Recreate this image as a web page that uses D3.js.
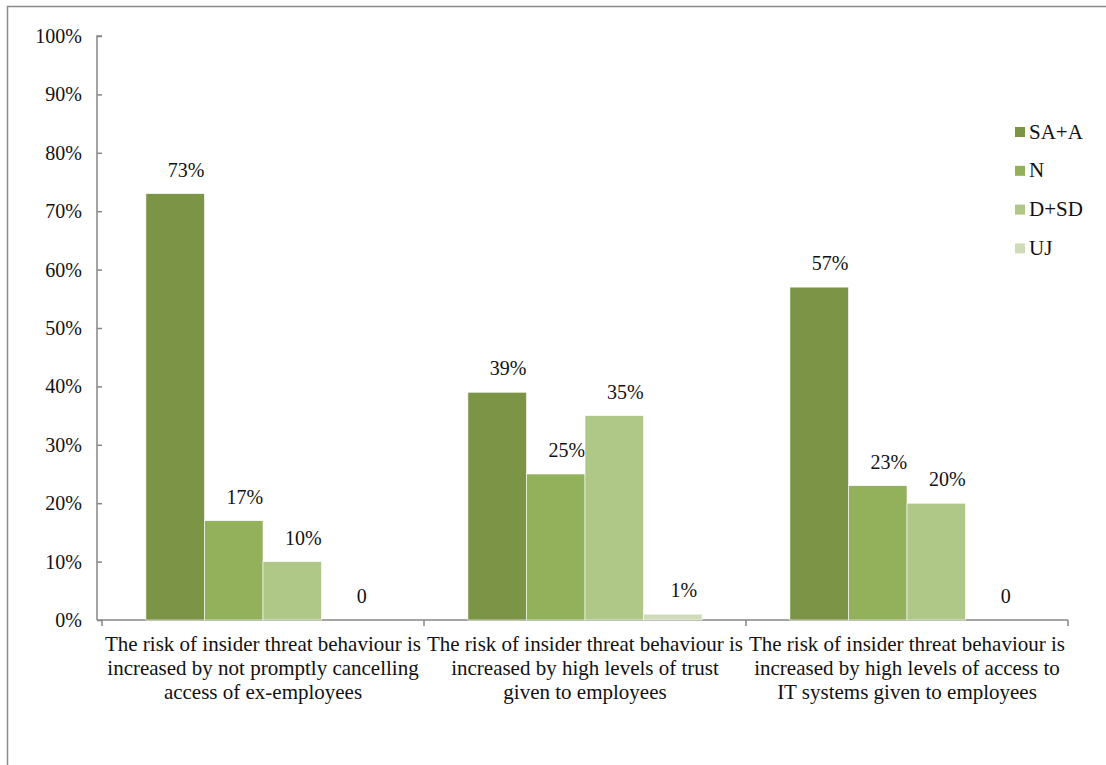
<!DOCTYPE html>
<html>
<head>
<meta charset="utf-8">
<script src="https://cdn.jsdelivr.net/npm/d3@7"></script>
<style>
  html, body { margin: 0; padding: 0; background: #fff; }
  svg { display: block; }
  svg text { font-family: "Liberation Serif", "Times New Roman", Tinos, "DejaVu Serif", serif !important; fill: #111; }
</style>
</head>
<body>
<svg id="chart" width="1106" height="765"></svg>
<script>
// Survey statements (each drawn as three lines under the axis)
const categories = [
  ["The risk of insider threat behaviour is", "increased by not promptly cancelling", "access of ex-employees"],
  ["The risk of insider threat behaviour is", "increased by high levels of trust", "given to employees"],
  ["The risk of insider threat behaviour is", "increased by high levels of access to", "IT systems given to employees"]
];
const seriesNames = ["SA+A", "N", "D+SD", "UJ"];
const seriesColors = ["#7b9446", "#93b05a", "#afc787", "#cfdcb7"];

// Share of respondents (percent) per statement
const saA  = [73, 39, 57];
const nVal = [17, 25, 23];
const dSd  = [10, 35, 20];
const uj   = [0, 1, 0];

// Value label text per series / statement
const saALabels  = ["73%", "39%", "57%"];
const nLabels    = ["17%", "25%", "23%"];
const dSdLabels  = ["10%", "35%", "20%"];
const ujLabels   = ["0", "1%", "0"];

const yTicks = [0, 10, 20, 30, 40, 50, 60, 70, 80, 90, 100];

const seriesValues = [saA, nVal, dSd, uj];
const seriesLabels = [saALabels, nLabels, dSdLabels, ujLabels];

const FONT = '"Liberation Serif", "Times New Roman", Tinos, "DejaVu Serif", serif';

const svg = d3.select("#chart").attr("font-family", FONT);

// Outer frame
svg.append("rect")
  .attr("x", 7.5).attr("y", 6.5)
  .attr("width", 1106).attr("height", 800)
  .attr("fill", "none").attr("stroke", "#8a8a8a").attr("stroke-width", 1.5);

const plot = { left: 102, right: 1068, top: 36, bottom: 620 };

const x0 = d3.scaleBand()
  .domain(d3.range(categories.length))
  .range([plot.left, plot.right])
  .padding(0);

const x1 = d3.scaleBand()
  .domain(seriesNames)
  .range([0, x0.bandwidth()])
  .paddingInner(0)
  .paddingOuter(0.75);

const y = d3.scaleLinear().domain([0, 100]).range([plot.bottom, plot.top]);

// Y axis
const yAxis = svg.append("g")
  .attr("transform", `translate(${plot.left},0)`)
  .call(d3.axisLeft(y).tickValues(yTicks).tickSize(5).tickPadding(15).tickFormat(d => d + "%"));
yAxis.attr("font-family", FONT).attr("font-size", 20);
yAxis.selectAll("text").attr("fill", "#111");
yAxis.selectAll("line, path").attr("stroke", "#868686").attr("stroke-width", 1.5);
yAxis.select(".domain").attr("d", `M0,${plot.top}H-5V${plot.bottom}`);

// X axis with ticks at category boundaries
const xAxisG = svg.append("g").attr("transform", `translate(0,${plot.bottom})`);
xAxisG.append("line")
  .attr("x1", plot.left - 5).attr("x2", plot.right)
  .attr("stroke", "#868686").attr("stroke-width", 1.5);
const boundaries = d3.range(categories.length + 1).map(i =>
  i < categories.length ? x0(i) : x0(i - 1) + x0.bandwidth());
xAxisG.selectAll("line.tick")
  .data(boundaries)
  .join("line")
  .attr("class", "tick")
  .attr("x1", d => d).attr("x2", d => d)
  .attr("y1", 0).attr("y2", 6)
  .attr("stroke", "#868686").attr("stroke-width", 1.5);

// Category labels
categories.forEach((lines, i) => {
  const cx = x0(i) + x0.bandwidth() / 2;
  const t = svg.append("text")
    .attr("x", cx)
    .attr("y", 651)
    .attr("text-anchor", "middle")
    .attr("font-size", 21);
  lines.forEach((ln, j) => {
    t.append("tspan")
      .attr("x", cx)
      .attr("dy", j === 0 ? 0 : 24)
      .text(ln);
  });
});

// Bars and value labels
seriesNames.forEach((name, s) => {
  const g = svg.append("g");
  const vals = seriesValues[s];
  g.selectAll("rect")
    .data(vals)
    .join("rect")
    .attr("x", (d, i) => x0(i) + x1(name))
    .attr("y", d => y(d))
    .attr("width", x1.bandwidth())
    .attr("height", d => y(0) - y(d))
    .attr("fill", seriesColors[s])
    .attr("stroke", "#fff")
    .attr("stroke-width", 0.6);
  g.selectAll("text")
    .data(vals)
    .join("text")
    .attr("x", (d, i) => x0(i) + x1(name) + x1.bandwidth() / 2 + 11)
    .attr("y", d => y(d) - 17)
    .attr("text-anchor", "middle")
    .attr("font-size", 20)
    .text((d, i) => seriesLabels[s][i]);
});

// Legend
const legend = svg.append("g").attr("transform", "translate(1015,0)");
seriesNames.forEach((name, s) => {
  const cy = 132 + s * 38.8;
  legend.append("rect")
    .attr("x", 0).attr("y", cy - 5)
    .attr("width", 10).attr("height", 10)
    .attr("fill", seriesColors[s]);
  legend.append("text")
    .attr("x", 14).attr("y", cy + 6.5)
    .attr("font-size", 21)
    .text(name);
});
</script>
</body>
</html>
